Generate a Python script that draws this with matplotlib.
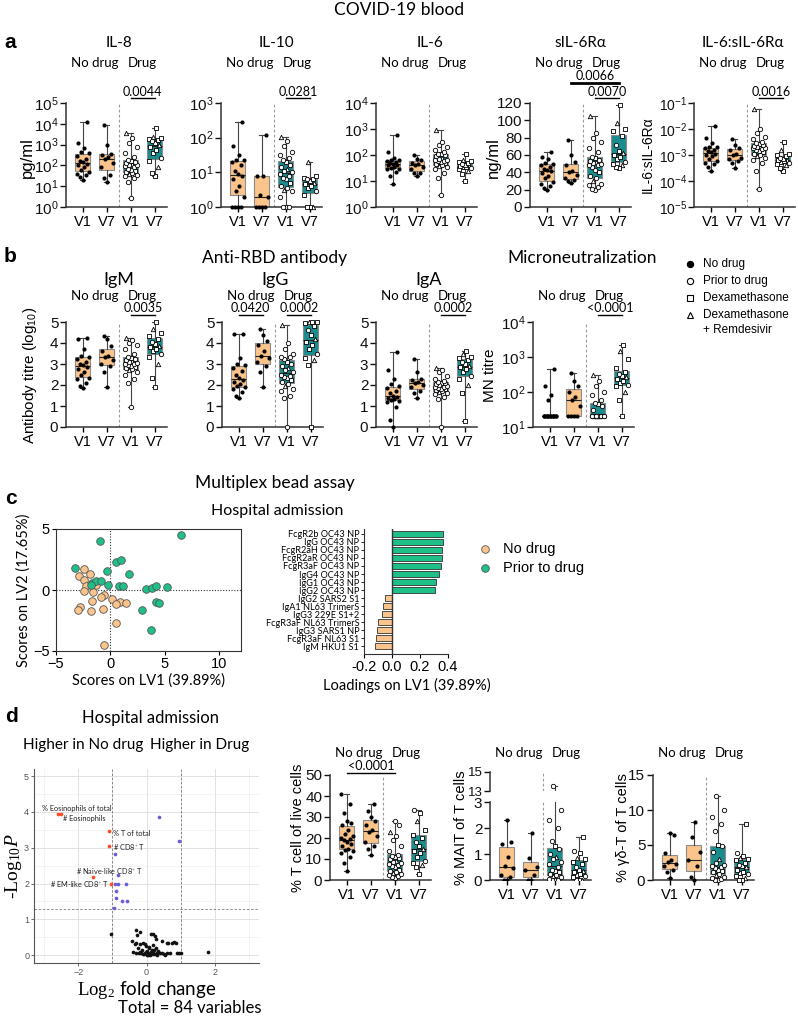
import numpy as np
import matplotlib
matplotlib.use("Agg")
import matplotlib.pyplot as plt
from matplotlib.lines import Line2D
from matplotlib.ticker import LogLocator, NullLocator

plt.rcParams['font.family'] = ['Liberation Sans', 'DejaVu Sans']
plt.rcParams['mathtext.fontset'] = 'custom'
plt.rcParams['mathtext.rm'] = 'Liberation Serif'
plt.rcParams['mathtext.it'] = 'Liberation Serif:italic'

# ---------------- data ----------------
visit_labels = ["V1", "V7", "V1", "V7"]

# panel a, log10 values for the log axes
il8_log = [[1.3, 1.45, 1.55, 1.6, 1.7, 1.8, 1.9, 2.0, 2.05, 2.15, 2.2, 2.3, 2.45, 2.6, 2.65, 2.85, 3.1, 4.1],
           [1.2, 1.4, 1.55, 1.9, 2.1, 2.3, 2.4, 2.5, 2.55, 3.0, 3.95],
           [0.43, 1.2, 1.4, 1.5, 1.55, 1.6, 1.65, 1.7, 1.75, 1.8, 1.85, 1.9, 1.95, 2.0, 2.0, 2.05, 2.1,
            2.15, 2.2, 2.25, 2.4, 2.6, 2.9, 3.1, 3.3, 3.55],
           [1.5, 1.65, 1.9, 2.2, 2.35, 2.6, 2.75, 2.9, 3.0, 3.1, 3.15, 3.2, 3.25, 3.3, 3.35, 3.8]]
il10_log = [[0, 0, 0, 0, 0.3, 0.45, 0.6, 0.8, 0.9, 0.95, 1.05, 1.2, 1.3, 1.35, 1.35, 1.5, 1.75, 2.46],
            [0, 0, 0, 0, 0.3, 0.35, 0.9, 0.9, 2.08],
            [0, 0, 0, 0.3, 0.45, 0.5, 0.55, 0.6, 0.7, 0.8, 0.85, 0.9, 0.95, 1.0, 1.05, 1.1, 1.15, 1.2,
             1.3, 1.35, 1.4, 1.5, 1.6, 1.75, 1.9, 2.03],
            [0, 0, 0, 0.35, 0.45, 0.55, 0.6, 0.65, 0.7, 0.75, 0.8, 0.8, 0.85, 0.9, 1.31]]
il6_log = [[0.9, 1.2, 1.35, 1.45, 1.48, 1.5, 1.55, 1.6, 1.63, 1.66, 1.7, 1.72, 1.75, 1.8, 1.82, 1.9, 2.1, 2.77],
           [1.2, 1.3, 1.32, 1.45, 1.55, 1.6, 1.65, 1.7, 1.8, 1.85, 2.0],
           [0.45, 1.1, 1.3, 1.45, 1.55, 1.58, 1.6, 1.65, 1.7, 1.72, 1.75, 1.78, 1.8, 1.82, 1.85, 1.9, 1.95,
            2.0, 2.02, 2.05, 2.1, 2.2, 2.3, 2.4, 2.5, 2.95],
           [1.0, 1.25, 1.4, 1.45, 1.5, 1.52, 1.55, 1.58, 1.6, 1.62, 1.65, 1.7, 1.72, 1.75, 1.8, 2.05]]
sil6r = [[20, 22, 24, 27, 29, 33, 36, 39, 41, 43, 44, 46, 48, 50, 51, 55, 58, 63],
         [28, 30, 31, 34, 37, 40, 42, 48, 52, 60, 77],
         [20, 21, 23, 25, 27, 30, 33, 36, 40, 43, 46, 48, 49, 50, 51, 52, 53, 54, 56, 58, 63, 68, 75, 80, 85, 105],
         [45, 46, 48, 50, 52, 55, 58, 60, 62, 65, 72, 82, 88, 90, 97, 118]]
ratio_log = [[-3.6, -3.45, -3.35, -3.3, -3.25, -3.15, -3.05, -3.0, -2.95, -2.9, -2.85, -2.8, -2.75, -2.7,
              -2.68, -2.55, -2.35, -1.9],
             [-3.5, -3.3, -3.25, -3.15, -3.1, -3.0, -2.95, -2.8, -2.75, -2.6, -2.4],
             [-4.3, -3.6, -3.3, -3.2, -3.1, -3.05, -3.0, -2.95, -2.9, -2.85, -2.8, -2.78, -2.75, -2.72, -2.7,
              -2.68, -2.65, -2.6, -2.58, -2.55, -2.5, -2.4, -2.3, -2.15, -2.0, -1.25],
             [-3.6, -3.5, -3.4, -3.35, -3.3, -3.28, -3.25, -3.2, -3.18, -3.15, -3.1, -3.05, -3.0, -2.95, -2.8, -2.5]]

# panel b, antibody titre (log10) and MN titre
igm = [[1.85, 1.95, 2.1, 2.3, 2.35, 2.5, 2.6, 2.75, 2.85, 2.95, 3.0, 3.1, 3.25, 3.35, 3.4, 3.7, 4.2, 4.25],
       [1.9, 2.6, 2.9, 3.0, 3.2, 3.35, 3.4, 3.6, 3.85, 4.2, 4.35],
       [0.95, 2.1, 2.3, 2.5, 2.6, 2.7, 2.75, 2.8, 2.85, 2.9, 2.95, 3.0, 3.0, 3.05, 3.1, 3.15, 3.2, 3.25,
        3.3, 3.35, 3.5, 3.7, 3.9, 4.0, 4.15, 4.25],
       [1.9, 2.35, 3.0, 3.35, 3.5, 3.6, 3.7, 3.8, 3.85, 3.95, 4.05, 4.2, 4.35, 4.5, 4.65, 5.0]]
igg = [[1.4, 1.5, 1.65, 1.8, 1.9, 1.95, 2.05, 2.15, 2.25, 2.35, 2.5, 2.65, 2.8, 2.95, 3.0, 3.3, 4.45, 4.45],
       [1.9, 2.6, 2.9, 3.1, 3.3, 3.4, 3.6, 3.9, 4.1, 4.4, 4.65],
       [0, 1.4, 1.5, 1.7, 1.8, 1.95, 2.05, 2.15, 2.25, 2.35, 2.4, 2.45, 2.5, 2.6, 2.7, 2.8, 2.9, 3.0,
        3.1, 3.25, 3.35, 3.35, 3.5, 3.7, 4.0, 4.85],
       [0, 2.95, 3.2, 3.3, 3.5, 3.7, 3.9, 4.05, 4.2, 4.4, 4.6, 4.8, 4.95, 5.0, 5.0, 5.0]]
iga = [[0, 0.35, 0.95, 1.2, 1.25, 1.3, 1.35, 1.4, 1.45, 1.5, 1.6, 1.7, 1.85, 1.95, 2.05, 2.3, 2.7, 3.55],
       [1.4, 1.6, 1.7, 1.9, 2.0, 2.1, 2.15, 2.25, 2.3, 2.6, 3.25],
       [0, 1.35, 1.45, 1.55, 1.6, 1.65, 1.7, 1.75, 1.8, 1.82, 1.85, 1.9, 1.9, 1.95, 2.0, 2.0, 2.05, 2.1,
        2.1, 2.15, 2.2, 2.3, 2.45, 2.6, 2.7, 2.8],
       [0.3, 1.6, 2.0, 2.3, 2.45, 2.6, 2.75, 2.85, 2.9, 3.0, 3.1, 3.2, 3.3, 3.35, 3.5, 3.6]]
mn = [[20, 20, 20, 20, 20, 20, 20, 20, 20, 20, 20, 20, 20, 20, 60, 80, 150, 450],
      [20, 20, 20, 20, 40, 60, 70, 100, 150, 200, 350],
      [20, 20, 20, 20, 20, 20, 20, 20, 20, 20, 20, 20, 20, 20, 20, 20, 30, 40, 45, 50, 60, 80, 100, 150,
       200, 300],
      [20, 60, 100, 150, 160, 180, 200, 230, 260, 280, 320, 380, 500, 900, 1500, 2200]]

# panel c
pls_nodrug_x = [-2.4, -2.85, -1.9, -2.4, -2.2, -1.3, -2.4, -1.6, -0.6, -0.9, 0.1, 0.9, 0.55, 1.4, -1.7,
                -2.75, -3.0, -1.8, -0.7, 0.5, -0.55]
pls_nodrug_y = [1.7, 1.18, 1.3, 0.86, 0.3, 0.4, -0.1, -0.15, -0.4, -0.6, -0.7, -1.0, -1.15, -1.05, -0.9,
                -1.4, -1.6, -1.75, -1.55, -2.7, -4.5]
pls_prior_x = [6.5, -1.0, -3.3, 0.52, 0.98, -0.27, 1.7, -1.7, -1.3, -0.9, -1.75, -0.2, 0.8, 1.2, 3.3,
               3.8, 4.2, 5.2, 4.2, 4.5, 2.9, 3.7]
pls_prior_y = [4.48, 3.99, 1.83, 2.27, 2.46, 1.53, 1.28, 0.6, 0.72, 0.72, 0.45, 0.4, 0.33, 0.33, 0.05,
               0.2, 0.33, 0.25, -1.0, -1.08, -1.64, -3.3]
loading_labels = ["FcgR2b OC43 NP", "IgG OC43 NP", "FcgR2aH OC43 NP", "FcgR2aR OC43 NP",
                  "FcgR3aF OC43 NP", "IgG4 OC43 NP", "IgG1 OC43 NP", "IgG2 OC43 NP", "IgG2 SARS2 S1",
                  "IgA1 NL63 TrimerS", "IgG3 229E S1+2", "FcgR3aF NL63 TrimerS", "IgG3 SARS1 NP",
                  "FcgR3aF NL63 S1", "IgM HKU1 S1"]
loading_values = [0.367, 0.362, 0.36, 0.355, 0.348, 0.333, 0.312, 0.305, -0.052, -0.067, -0.071,
                  -0.102, -0.105, -0.117, -0.119]

# panel d, volcano
volc_ns_x = [-1.05, -0.32, -0.2, -0.28, -0.42, -0.3, -0.2, -0.09, -0.01, 0.14, 0.19, 0.24, 0.28, 0.45,
             0.63, 0.75, 0.82, 0.87, 0.19, 0.07, -0.4, -0.15, -0.1, -0.05, 0.0, 0.05, 0.1, 0.15, 0.2,
             0.25, 0.3, 0.45, 0.6, 0.9, 1.0, 1.8, -0.35, -0.25, -0.12, 0.02, 0.12, 0.22, 0.35, -0.05,
             0.08, 0.16, 0.27, -0.18, 0.6, 0.7, 0.95, 0.1, 0.0, -0.08, 0.3, 0.04, 0.14, -0.22, 0.2, 0.5,
             0.18, -0.02, 0.33, 0.4, -0.3, 0.55]
volc_ns_y = [0.6, 0.71, 0.65, 0.56, 0.40, 0.34, 0.31, 0.34, 0.25, 0.60, 0.58, 0.53, 0.44, 0.39, 0.34,
             0.34, 0.37, 0.34, 0.28, 0.19, 0.1, 0.05, 0.04, 0.06, 0.03, 0.05, 0.04, 0.06, 0.05, 0.03,
             0.05, 0.05, 0.05, 0.06, 0.06, 0.1, 0.3, 0.2, 0.15, 0.12, 0.1, 0.15, 0.08, 0.3, 0.22, 0.14,
             0.2, 0.08, 0.34, 0.06, 0.06, 0.0, 0.01, 0.02, 0.0, 0.0, 0.02, 0.05, 0.12, 0.03,
             0.02, 0.08, 0.12, 0.05, 0.07, 0.01]
volc_p_x = [0.38, 0.94, -0.93, -0.85, -0.93, -0.84, -0.6, -0.9, -0.9, -0.72, -0.58, -0.95]
volc_p_y = [3.85, 3.18, 2.82, 2.24, 1.98, 1.98, 1.98, 1.8, 1.6, 1.52, 1.52, 1.32]
volc_fc_x = [-2.61, -2.51, -1.09, -1.09, -1.56, -1.05]
volc_fc_y = [3.94, 3.94, 3.48, 3.04, 2.19, 2.0]
volc_names = ["% Eosinophils of total", "# Eosinophils", "% T of total", "# CD8$^{+}$ T",
              "# Naive-like CD8$^{+}$ T", "# EM-like CD8$^{+}$ T"]

# panel d, T cell subsets (%)
tcell = [[4.5, 8, 11, 13, 14, 14.5, 15, 16, 17, 18, 19, 19.5, 20, 21, 22, 24, 26, 27, 28, 32, 36, 41],
         [12, 15, 16, 18, 21, 23, 24, 26, 28, 30, 33, 36],
         [1, 1.5, 2, 2.5, 3, 3.5, 4, 4.5, 5, 6, 6.5, 7, 7.5, 8, 8.5, 9, 10, 10.5, 11, 11.5, 12, 14, 16, 19,
          21, 23, 26, 28],
         [3, 6, 7, 8, 9, 11, 13, 14, 15, 16, 18, 20, 21.5, 24, 28, 32, 33.5]]
mait = [[0, 0, 0.1, 0.2, 0.45, 0.55, 0.9, 1.4, 1.45, 2.3],
        [0, 0, 0.2, 0.4, 0.5, 0.85, 1.8],
        [0, 0, 0, 0.05, 0.1, 0.15, 0.2, 0.25, 0.3, 0.35, 0.4, 0.5, 0.6, 0.7, 0.8, 0.9, 1.0, 1.2, 1.3, 1.5,
         2.0, 2.3, 2.7, 13.5],
        [0, 0, 0, 0.1, 0.15, 0.2, 0.25, 0.3, 0.35, 0.4, 0.5, 0.6, 0.7, 0.8, 0.85, 1.05, 1.1, 1.65]]
gdt = [[0.3, 1.2, 1.5, 2.0, 2.3, 2.6, 2.8, 3.9, 6.5, 6.7],
       [0, 0.5, 2.0, 2.9, 4.0, 6.1, 8.3],
       [0, 0, 0.2, 0.3, 0.5, 0.7, 0.9, 1.1, 1.3, 1.5, 1.7, 1.8, 2.0, 2.2, 2.5, 3.0, 4.0, 4.8, 5.0, 7.0,
        8.0, 9.0, 10.0, 12.0],
       [0, 0, 0.3, 0.6, 0.8, 1.0, 1.2, 1.5, 1.8, 2.0, 2.2, 2.5, 2.8, 3.0, 3.2, 3.5, 3.8, 8.0]]

# ---------------- style ----------------
ORANGE = '#FBC48B'
TEAL = '#1B8C8D'
GREEN = '#1FBF88'
CAL = ['Lato', 'DejaVu Sans']
JIT = [0, -0.12, 0.12, -0.24, 0.24, -0.06, 0.06, -0.18, 0.18]
MARKS_V1 = ['o', 'o', 'o', 'o', 'o', '^', 'o', 'o', 's', 'o']
MARKS_V7 = ['s', 's', '^', 's', 'o', 's']
STEP = 24.0
W, H = 798, 1019

fig = plt.figure(figsize=(W / 100, H / 100), dpi=100)


def axes_px(l, t, r, b):
    return fig.add_axes([l / W, 1 - b / H, (r - l) / W, (b - t) / H])


def ftext(x, y, s, **kw):
    kw.setdefault('ha', 'center')
    kw.setdefault('va', 'center')
    fig.text(x / W, 1 - y / H, s, **kw)


def bracket(x1, x2, y, label, lw=1.0):
    fig.add_artist(Line2D([x1 / W, x2 / W], [1 - y / H, 1 - y / H], color='k', lw=lw))
    ftext((x1 + x2) / 2, y - 6.5, label, fontsize=9, family=CAL)


def box_x(left, i):
    return left + (i - 0.3) * STEP


def draw_boxes(ax, groups, clip=False):
    pos = [1, 2, 3, 4]
    bp = ax.boxplot(groups, positions=pos, widths=0.62, whis=(0, 100), showfliers=False,
                    patch_artist=True, capwidths=0.22,
                    medianprops=dict(color='#222222', lw=0.8),
                    whiskerprops=dict(color='#444444', lw=0.8),
                    capprops=dict(color='#444444', lw=0.8),
                    boxprops=dict(edgecolor='#8c8c8c', lw=0.8))
    for patch, c in zip(bp['boxes'], [ORANGE, ORANGE, TEAL, TEAL]):
        patch.set_facecolor(c)
    for k, vals in enumerate(groups):
        v = np.sort(np.asarray(vals, float))
        x = pos[k] + np.array([JIT[i % len(JIT)] for i in range(len(v))])
        if k < 2:
            ax.scatter(x, v, s=9, c='k', lw=0, zorder=3, clip_on=clip)
        else:
            cyc = MARKS_V1 if k == 2 else MARKS_V7
            mk = np.array([cyc[i % len(cyc)] for i in range(len(v))])
            for m in set(mk):
                sel = mk == m
                ax.scatter(x[sel], v[sel], marker=m, s=10, facecolor='white', edgecolor='k',
                           lw=0.6, zorder=3, clip_on=clip)
    ax.axvline(2.5, ls=(0, (2.5, 2)), color='#9a9a9a', lw=0.8)
    ax.set_xlim(0.3, 4.5)
    for s in ('top', 'right'):
        ax.spines[s].set_visible(False)
    for s in ('left', 'bottom'):
        ax.spines[s].set_linewidth(1.1)
        ax.spines[s].set_color('#333333')
    ax.tick_params(axis='y', length=4, width=1.0, labelsize=11, pad=1.5, colors='#111111')
    ax.tick_params(axis='x', length=3.5, width=1.0, labelsize=10.5, pad=2)
    ax.set_xticks(pos, visit_labels)


def box_panel(left, top, bottom, groups, ylim, log=False, yticks=None):
    ax = axes_px(left, top, left + 4.2 * STEP, bottom)
    if log:
        ax.set_yscale('log')
    draw_boxes(ax, groups)
    ax.set_ylim(*ylim)
    if log:
        ax.yaxis.set_major_locator(LogLocator(base=10, numticks=12))
        ax.yaxis.set_minor_locator(NullLocator())
    if yticks is not None:
        ax.set_yticks(yticks)
    return ax


def group_labels(left, y):
    ftext(box_x(left, 1.5), y, "No drug", fontsize=9.5, family=CAL)
    ftext(box_x(left, 3.5), y, "Drug", fontsize=9.5, family=CAL)


def to_lin(groups):
    return [10 ** np.array(g, float) for g in groups]


# ---------------- panel a ----------------
ftext(399, 10, "COVID-19 blood", fontsize=12.5, family=CAL)
ftext(10, 42, "a", fontsize=15, fontweight='bold')
a_top, a_bot = 103, 207
a_left = [66, 221, 376, 530, 694]
a_titles = ["IL-8", "IL-10", "IL-6", "sIL-6R\u03b1", "IL-6:sIL-6R\u03b1"]
a_title_x = [119, 276, 430, 580, 743]

box_panel(a_left[0], a_top, a_bot, to_lin(il8_log), (1, 1e5), log=True)
box_panel(a_left[1], a_top, a_bot, to_lin(il10_log), (1, 1e3), log=True)
box_panel(a_left[2], a_top, a_bot, to_lin(il6_log), (1, 1e4), log=True)
box_panel(a_left[3], a_top, a_bot, sil6r, (0, 120), yticks=range(0, 121, 20))
ax_ratio = box_panel(a_left[4], a_top, a_bot, to_lin(ratio_log), (1e-5, 1e-1), log=True)
ax_ratio.tick_params(axis='y', labelsize=10, pad=1)
for l, t, tx in zip(a_left, a_titles, a_title_x):
    ftext(tx, 43, t, fontsize=11, family=CAL)
    group_labels(l, 63)
ftext(27, 158, "pg/ml", fontsize=12, rotation=90)
ftext(493, 158, "ng/ml", fontsize=12, rotation=90)
ftext(648, 155, "IL-6:sIL-6R\u03b1", fontsize=10, rotation=90)
bracket(box_x(a_left[0], 3), box_x(a_left[0], 4), 98, "0.0044")
bracket(box_x(a_left[1], 3), box_x(a_left[1], 4), 98, "0.0281")
bracket(box_x(a_left[3], 2), box_x(a_left[3], 4), 83, "0.0066", lw=2.0)
bracket(box_x(a_left[3], 3), box_x(a_left[3], 4), 98, "0.0070")
bracket(box_x(a_left[4], 3), box_x(a_left[4], 4), 98, "0.0016")

# ---------------- panel b ----------------
ftext(10, 257, "b", fontsize=15, fontweight='bold')
ftext(275, 258, "Anti-RBD antibody", fontsize=12.5, family=CAL)
ftext(582, 258, "Microneutralization", fontsize=12.5, family=CAL)
b_top, b_bot = 322, 427
b_left = [66, 222, 376, 533]
for l, g, t in zip(b_left[:3], [igm, igg, iga], ["IgM", "IgG", "IgA"]):
    box_panel(l, b_top, b_bot, g, (0, 5), yticks=range(6))
    ftext(box_x(l, 2.5), 280, t, fontsize=13, family=CAL)
box_panel(b_left[3], b_top, b_bot, mn, (10, 1e4), log=True)
for l in b_left:
    group_labels(l, 296)
ftext(30, 375, r"Antibody titre ($\mathdefault{log_{10}}$)", fontsize=11, rotation=90)
ftext(490, 375, "MN titre", fontsize=11, rotation=90)
bracket(box_x(b_left[0], 3), box_x(b_left[0], 4), 315, "0.0035")
bracket(box_x(b_left[1], 1), box_x(b_left[1], 2), 315, "0.0420")
bracket(box_x(b_left[1], 3), box_x(b_left[1], 4), 315, "0.0002")
bracket(box_x(b_left[2], 3), box_x(b_left[2], 4), 315, "0.0002")
bracket(box_x(b_left[3], 3), box_x(b_left[3], 4), 315, "<0.0001")

leg_b = [("o", 'k', "No drug", 264), ("o", 'white', "Prior to drug", 281),
         ("s", 'white', "Dexamethasone", 298), ("^", 'white', "Dexamethasone", 315)]
for m, fc, txt, y in leg_b:
    fig.add_artist(Line2D([690 / W], [1 - y / H], marker=m, ms=4.5, mfc=fc, mec='k', mew=0.8, ls=''))
    ftext(703, y, txt, fontsize=8.5, ha='left')
ftext(703, 330, "+ Remdesivir", fontsize=8.5, ha='left')

# ---------------- panel c ----------------
ftext(275, 483, "Multiplex bead assay", fontsize=12.5, family=CAL)
ftext(11, 499, "c", fontsize=15, fontweight='bold')
ftext(277, 511, "Hospital admission", fontsize=11.5, family=CAL)

axs = axes_px(56, 529, 241, 651)
axs.scatter(pls_nodrug_x, pls_nodrug_y, s=30, c=ORANGE, edgecolors='#555555', lw=0.6, zorder=3)
axs.scatter(pls_prior_x, pls_prior_y, s=30, c=GREEN, edgecolors='#555555', lw=0.6, zorder=3)
axs.set_xlim(-5, 12)
axs.set_ylim(-5, 5)
axs.set_xticks([-5, 0, 5, 10])
axs.set_yticks([-5, 0, 5])
axs.axvline(0, ls=(0, (1, 1.5)), color='#333333', lw=0.8)
axs.axhline(0, ls=(0, (1, 1.5)), color='#333333', lw=0.8)
for s in axs.spines.values():
    s.set_linewidth(0.8)
    s.set_color('#333333')
axs.tick_params(labelsize=10.5, length=3, pad=1.5)
ftext(148, 681, "Scores on LV1 (39.89%)", fontsize=10.5, family=CAL)
ftext(24, 590, "Scores on LV2 (17.65%)", fontsize=10.5, family=CAL, rotation=90)

axb = axes_px(364, 529, 448, 654)
ypos = np.arange(len(loading_labels))
bar_cols = [GREEN if v > 0 else ORANGE for v in loading_values]
axb.barh(ypos, loading_values, height=0.72, color=bar_cols, edgecolor='#333333', lw=0.6)
axb.set_ylim(14.95, -0.6)
axb.set_xlim(-0.2, 0.4)
axb.axvline(0, color='#333333', lw=1.0)
axb.set_yticks(ypos, loading_labels, fontsize=6.6, family=CAL)
axb.set_xticks([-0.2, 0.0, 0.2, 0.4], ["-0.2", "0.0", "0.2", "0.4"])
axb.tick_params(axis='y', length=2.5, width=0.6, pad=1)
axb.tick_params(axis='x', labelsize=10.5, length=3, pad=1.5)
for s in ('top', 'right'):
    axb.spines[s].set_visible(False)
for s in ('left', 'bottom'):
    axb.spines[s].set_color('#333333')
    axb.spines[s].set_linewidth(0.8)
ftext(407, 685, "Loadings on LV1 (39.89%)", fontsize=10.5, family=CAL)

for y, c, txt in [(549, ORANGE, "No drug"), (568, GREEN, "Prior to drug")]:
    fig.add_artist(Line2D([485 / W], [1 - y / H], marker='o', ms=5.5, mfc=c, mec='#555555',
                          mew=0.6, ls=''))
    ftext(503, y, txt, fontsize=10.5, ha='left')

# ---------------- panel d ----------------
ftext(12, 716, "d", fontsize=15, fontweight='bold')
ftext(150, 718, "Hospital admission", fontsize=12, family=CAL)
ftext(83, 745, "Higher in No drug", fontsize=11, family=CAL)
ftext(200, 745, "Higher in Drug", fontsize=11, family=CAL)

axv = axes_px(34, 769, 259, 963)
axv.scatter(volc_ns_x, volc_ns_y, s=7, c='#111111', lw=0, zorder=3)
axv.scatter(volc_p_x, volc_p_y, s=7, c='#6B5BD6', lw=0, zorder=3)
axv.scatter(volc_fc_x, volc_fc_y, s=7, c='#FF4B1F', lw=0, zorder=3)
axv.set_xlim(-3.3, 3.3)
axv.set_ylim(-0.22, 5.2)
axv.set_xticks([-2, 0, 2])
axv.set_yticks(range(6))
axv.set_xticks([-3, -1, 1, 3], minor=True)
axv.set_yticks(np.arange(0.5, 5.1, 1.0), minor=True)
axv.grid(True, which='major', color='#e2e2e2', lw=0.7)
axv.grid(True, which='minor', color='#efefef', lw=0.5)
axv.set_axisbelow(True)
axv.tick_params(labelsize=6.5, colors='#555555', length=2, width=0.6, pad=1.5)
axv.tick_params(which='minor', length=0)
for x in (-1, 1):
    axv.axvline(x, ls=(0, (3, 2)), color='#777777', lw=0.6)
axv.axhline(1.3, ls=(0, (3, 2)), color='#777777', lw=0.6)
for s in ('top', 'right'):
    axv.spines[s].set_visible(False)
for s in ('left', 'bottom'):
    axv.spines[s].set_color('#555555')
    axv.spines[s].set_linewidth(0.8)
lab_pos = [(-3.06, 4.11, 'left'), (-2.44, 3.81, 'left'), (-0.97, 3.40, 'left'),
           (-0.97, 3.02, 'left'), (-2.06, 2.34, 'left'), (-1.09, 1.99, 'right')]
for name, (x, y, ha) in zip(volc_names, lab_pos):
    axv.text(x, y, name, fontsize=5.3, ha=ha, va='center', color='#222222', family=CAL)
ftext(13, 866, "-Log$_{10}$$\\mathit{P}$", fontsize=14, rotation=90, family='Liberation Serif')
ftext(147, 990, r"$\mathrm{Log_2}$ fold change", fontsize=13.5, family=CAL)
ftext(190, 1008, "Total = 84 variables", fontsize=12, family=CAL)

d_top, d_bot = 775, 880
d_left = [330, 490, 653]
box_panel(d_left[0], d_top, d_bot, tcell, (0, 50), yticks=range(0, 51, 10))
box_panel(d_left[2], d_top, d_bot, gdt, (0, 15), yticks=[0, 5, 10, 15])
# broken axis for MAIT
ax_hi = axes_px(d_left[1], 772, d_left[1] + 4.2 * STEP, 791)
draw_boxes(ax_hi, mait, clip=True)
ax_hi.set_ylim(13, 15)
ax_hi.set_yticks([13, 15])
ax_hi.tick_params(axis='y', labelsize=9.5, pad=1)
ax_hi.spines['bottom'].set_visible(False)
ax_hi.tick_params(axis='x', length=0, labelbottom=False)
ax_lo = axes_px(d_left[1], 802, d_left[1] + 4.2 * STEP, 880)
draw_boxes(ax_lo, mait, clip=True)
ax_lo.set_ylim(0, 3)
ax_lo.set_yticks([0, 1, 2, 3])
for l in d_left:
    group_labels(l, 753)
bracket(box_x(d_left[0], 1), box_x(d_left[0], 3), 773, "<0.0001")
ftext(298, 828, "% T cell of live cells", fontsize=10.5, rotation=90)
ftext(461, 828, "% MAIT of T cells", fontsize=10.5, rotation=90)
ftext(623, 828, "% \u03b3\u03b4-T of T cells", fontsize=10.5, rotation=90)

fig.savefig("out.png", dpi=100)
